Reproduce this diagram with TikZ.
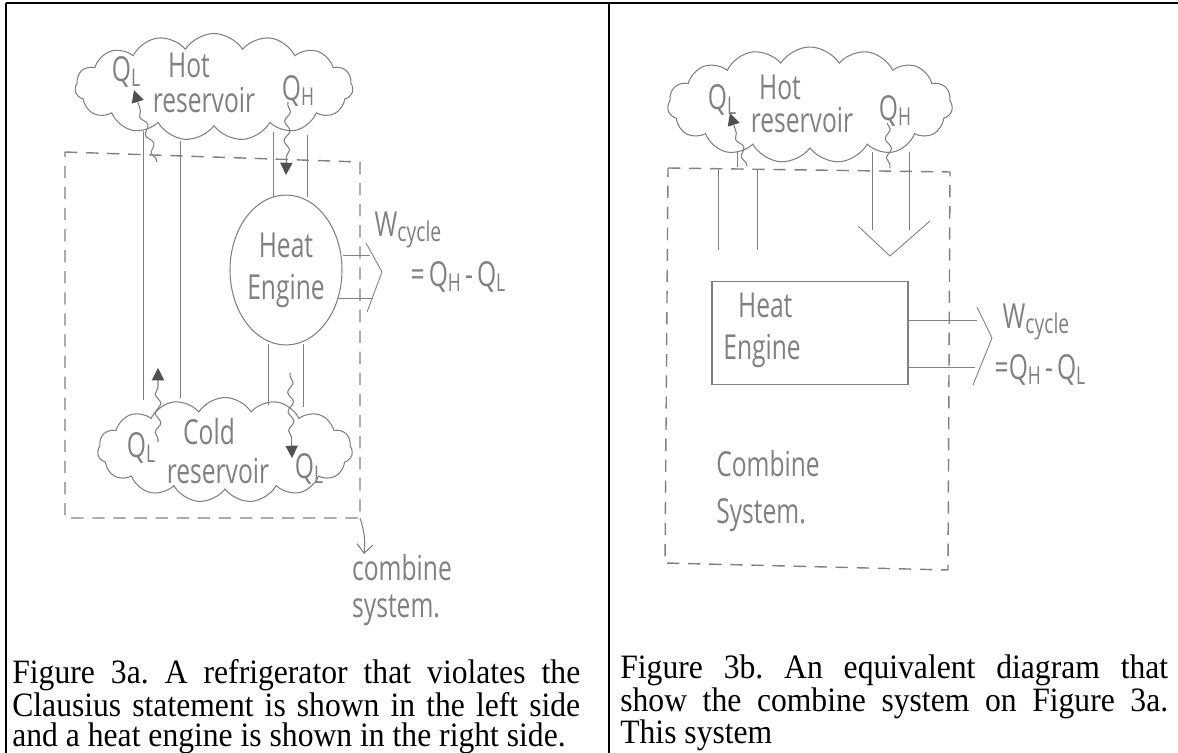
\documentclass[tikz,border=0pt]{standalone}
\usepackage{fontspec}
\setmainfont{Liberation Serif}
\newfontfamily\handfont{Open Sans}
\usetikzlibrary{positioning,arrows.meta,shapes.symbols,shapes.geometric,decorations.pathmorphing}
\definecolor{pencil}{RGB}{128,128,128}
\definecolor{lead}{RGB}{80,80,80}
\newcommand{\hw}[1]{\scalebox{1}[1.4]{#1}}
\newcommand{\Qs}[1]{Q\raisebox{-0.25ex}{\fontsize{10}{10}\selectfont #1}}
\newcommand{\Wcyc}{W\raisebox{-0.3ex}{\fontsize{11}{11}\selectfont cycle}}
\newcommand{\captext}[2]{\scalebox{1}[1.08]{\parbox{#1}{\fontsize{18}{15.5}\selectfont\frenchspacing #2}}}
\tikzset{
  hand/.style={font=\handfont\fontsize{14}{15}\selectfont, text=pencil, inner sep=0pt},
  puff/.style={cloud, cloud puffs=15, cloud puff arc=115, cloud ignores aspect, draw=pencil, line width=0.6pt},
  pipe/.style={draw=pencil, line width=0.5pt},
  border/.style={draw=pencil, line width=0.8pt, dash pattern=on 7pt off 5pt},
  heatflow/.style={draw=pencil, line width=0.6pt, decorate,
    decoration={snake, amplitude=1.6pt, segment length=11pt, pre length=2pt, post length=7pt},
    -{Triangle[length=7pt,width=7pt,color=lead]}},
  wavy/.style={draw=pencil, line width=0.6pt, decorate,
    decoration={snake, amplitude=1.6pt, segment length=11pt}},
  frame/.style={line width=1.2pt},
  caption/.style={anchor=north west, inner sep=0pt}
}
\begin{document}
\begin{tikzpicture}[x=0.02cm, y=-0.02cm]
\useasboundingbox (0,0) rectangle (1178,753);
% table frame
\draw[frame] (6,3) -- (1178,3);
\draw[frame] (6,3) -- (6,753);
\draw[frame] (609,3) -- (609,753);

% ----- Figure 3a: refrigerator + heat engine -----
\node[puff, minimum width=5.56cm, minimum height=2.14cm] (hotA) at (214,87) {};
\node[puff, minimum width=5.1cm, minimum height=2.1cm] (coldA) at (225,450) {};
\node[ellipse, draw=pencil, line width=0.6pt, minimum width=2.24cm, minimum height=3cm,
  hand, align=center] (engA) at (286,270) {\hw{Heat}\\[9pt]\hw{Engine}};

\node[hand] (qlA) at (126,72) {\hw{\Qs{L}}};
\node[hand] (hotAtxt) at (189,65) {\hw{Hot}};
\node[hand] (resA) at (204,100) {\hw{reservoir}};
\node[hand] (qhA) at (298,91) {\hw{\Qs{H}}};
\node[hand] (qlcA) at (141,448) {\hw{\Qs{L}}};
\node[hand] (coldAtxt) at (209,432) {\hw{Cold}};
\node[hand] (rescA) at (218,471) {\hw{reservoir}};
\node[hand] (qloA) at (309,469) {\hw{\Qs{L}}};
\node[hand] (wA) at (408,230) {\hw{\Wcyc}};
\node[hand] (eqA) at (458,277) {\hw{=\,\Qs{H}\,-\,\Qs{L}}};
\node[hand, align=left] (sysA) at (402,590) {\hw{combine}\\[6pt]\hw{system.}};

% system boundary
\coordinate (bA-nw) at (65,152);
\coordinate (bA-ne) at (360,162);
\coordinate (bA-se) at (360,518);
\coordinate (bA-sw) at (65,518);
\draw[border] (bA-nw) -- (bA-ne) -- (bA-se) -- (bA-sw) -- cycle;
\draw[pencil, line width=0.6pt, -{Straight Barb[length=5pt,width=9pt]}]
  (bA-se) to[bend left=12] (sysA.north -| 364,0);

% refrigerator pipes
\foreach \x/\a/\b in {143/131/400, 180/141/398}
  \draw[pipe] (\x,\a) -- (\x,\b);
% engine pipes
\foreach \x/\a/\b in {273/132/197, 307/135/197, 268/344/405, 303/344/407}
  \draw[pipe] (\x,\a) -- (\x,\b);

% heat transfers
\coordinate (qlA-in) at (157,162);
\coordinate (qlA-out) at (134,90);
\draw[heatflow] (qlA-in) -- (qlA-out);
\coordinate (qhA-in) at (288,102);
\draw[heatflow] (qhA-in) -- (engA.north |- 0,175);
\coordinate (qloA-in) at (290,373);
\coordinate (qloA-out) at (292,458);
\draw[heatflow] (qloA-in) -- (qloA-out);
\coordinate (qlcA-in) at (158,442);
\coordinate (qlcA-out) at (158,368);
\draw[heatflow] (qlcA-in) -- (qlcA-out);

% work output
\draw[pipe] (engA.east |- 0,255) -- (370,255);
\draw[pipe] (338,298) -- (373,298);
\draw[pipe] (366,243) -- (382,272) -- (367,312);

% ----- Figure 3b: combined system -----
\node[puff, minimum width=5.7cm, minimum height=2.32cm] (hotB) at (810,105) {};
\node[hand] (qlB) at (722,100) {\hw{\Qs{L}}};
\node[hand] (hotBtxt) at (780,87) {\hw{Hot}};
\node[hand] (resB) at (802,120) {\hw{reservoir}};
\node[hand] (qhB) at (895,111) {\hw{\Qs{H}}};

\coordinate (bB-nw) at (668,168);
\coordinate (bB-ne) at (950,172);
\coordinate (bB-se) at (948,570);
\coordinate (bB-sw) at (665,563);
\draw[border] (bB-nw) -- (bB-ne) -- (bB-se) -- (bB-sw) -- cycle;

\node[draw=pencil, line width=0.6pt, minimum width=3.92cm, minimum height=2.06cm] (engB) at (810,333) {};
\node[hand, align=left, anchor=west] (engBtxt) at (723,330) {\hspace{0.6em}\hw{Heat}\\[9pt]\hw{Engine}};
\node[hand] (wB) at (1036,322) {\hw{\Wcyc}};
\node[hand] (eqB) at (1040,370) {\hw{=\Qs{H}\,-\,\Qs{L}}};
\node[hand, align=left] (sysB) at (768,491) {\hw{Combine}\\[12pt]\hw{System.}};

\coordinate (qlB-in) at (747,166);
\coordinate (qlB-out) at (730,113);
\draw[heatflow] (qlB-in) -- (qlB-out);
\coordinate (qhB-in) at (887,123);
\coordinate (qhB-out) at (890,168);
\draw[wavy] (qhB-in) -- (qhB-out);
\draw[pipe] (737,152) -- (737,167);
\foreach \x in {718, 757}
  \draw[pipe] (\x,169) -- (\x,250);
\foreach \x in {872, 909}
  \draw[pipe] (\x,152) -- (\x,230);
\draw[pipe] (858,226) -- (890,256) -- (930,221);

\draw[pipe] (engB.east |- 0,320) -- (977,320);
\draw[pipe] (engB.east |- 0,367) -- (975,367);
\draw[pipe] (977,307) -- (992,338) -- (973,385);

% captions
\node[caption] (capA) at (12,659) {\captext{11.36cm}{Figure 3a. A refrigerator that violates the\linebreak
  Clausius statement is shown in the left side\linebreak
  and a heat engine is shown in the right side.}};
\node[caption] (capB) at (620,654) {\captext{10.96cm}{Figure 3b. An equivalent diagram that\linebreak
  show the combine system on Figure 3a.\linebreak
  This system}};
\end{tikzpicture}
\end{document}
